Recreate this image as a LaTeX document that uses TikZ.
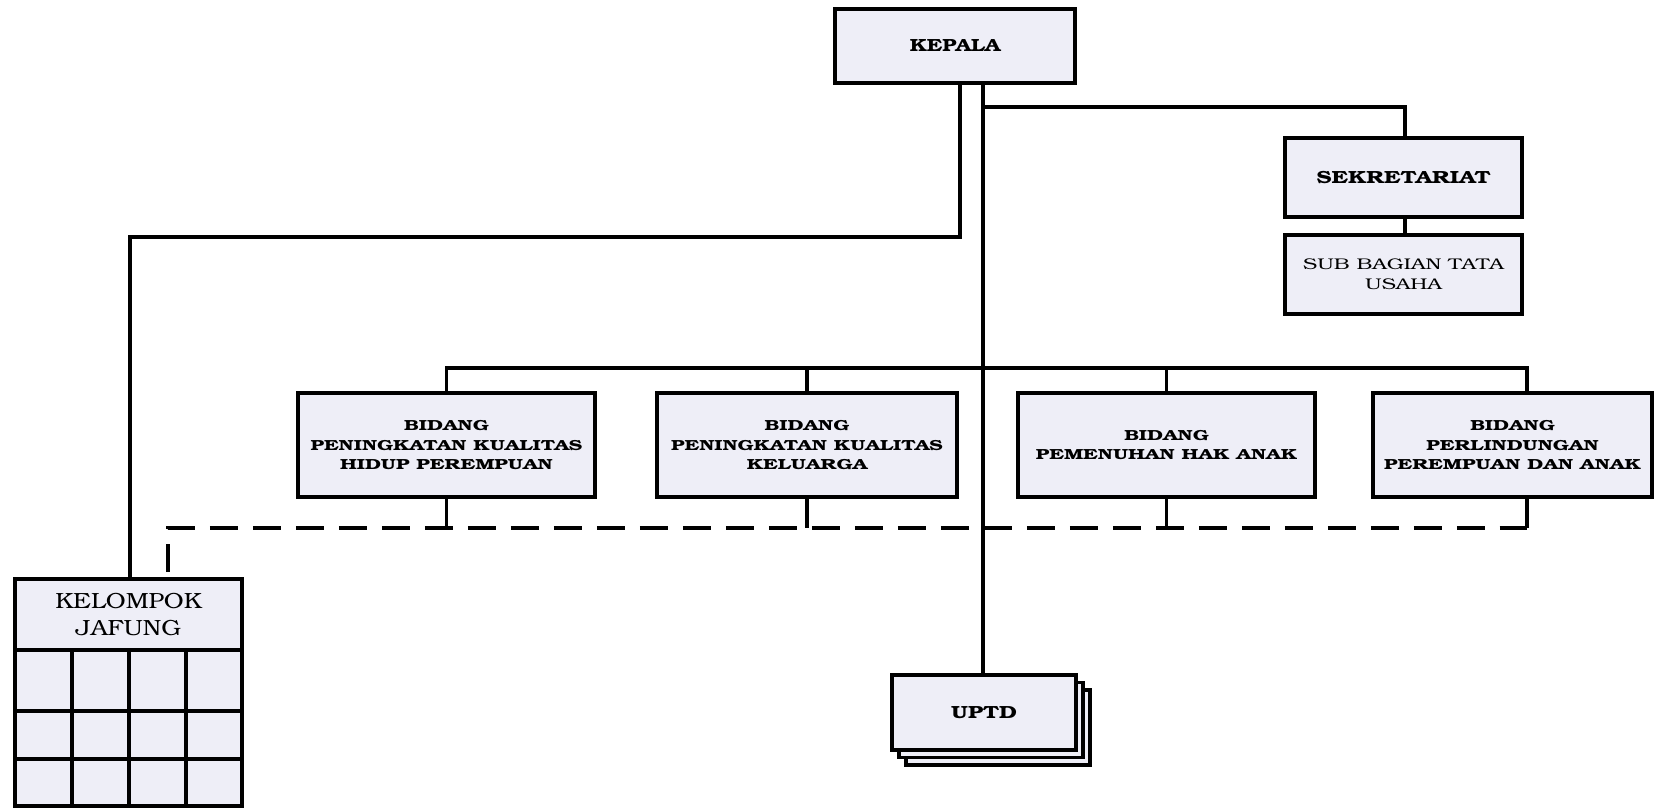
\documentclass[tikz,border=0pt]{standalone}
\usepackage[T1]{fontenc}
\usepackage{graphicx}
\renewcommand{\rmdefault}{pbk}
\usetikzlibrary{calc}
\definecolor{boxfill}{HTML}{EEEEF7}
\newcommand{\wb}[1]{\scalebox{1.4}[1]{#1}}
\newcommand{\wsub}[1]{\scalebox{1.38}[1]{#1}}
\newcommand{\wkel}[1]{\scalebox{1.13}[1]{#1}}
\tikzset{
  orgbox/.style={draw=black, line width=2.2pt, fill=boxfill, align=center, inner sep=2pt},
  conn/.style={draw=black, line width=1.8pt},
  dconn/.style={draw=black, line width=1.8pt, dash pattern=on 0.56cm off 0.3cm},
  bidtext/.style={font=\fontsize{8.3}{11}\selectfont\bfseries},
}
\begin{document}
\begin{tikzpicture}[x=0.02cm,y=-0.02cm]
\useasboundingbox (0,0) rectangle (1657,808);
% KEPALA
\node[orgbox, minimum width=4.8cm, minimum height=1.48cm, font=\fontsize{10}{12}\selectfont\bfseries] (kepala) at (955,46) {\scalebox{1.22}[1]{KEPALA}};
% Sekretariat
\node[orgbox, minimum width=4.74cm, minimum height=1.58cm, font=\fontsize{10}{12}\selectfont\bfseries] (sek) at (1403.5,177.5) {\scalebox{1.3}[1]{SEKRETARIAT}};
\node[orgbox, minimum width=4.74cm, minimum height=1.58cm, font=\fontsize{8.8}{11.3}\selectfont] (sub) at (1403.5,274.5) {\wsub{SUB BAGIAN TATA}\\\wsub{USAHA}};
% Bidang
\node[orgbox, minimum width=5.94cm, minimum height=2.08cm, bidtext] (b1) at (446.5,445) {\wb{BIDANG}\\\wb{PENINGKATAN KUALITAS}\\\wb{HIDUP PEREMPUAN}};
\node[orgbox, minimum width=6.0cm, minimum height=2.08cm, bidtext] (b2) at (807,445) {\wb{BIDANG}\\\wb{PENINGKATAN KUALITAS}\\\wb{KELUARGA}};
\node[orgbox, minimum width=5.94cm, minimum height=2.08cm, bidtext] (b3) at (1166.5,445) {\wb{BIDANG}\\\wb{PEMENUHAN HAK ANAK}};
\node[orgbox, minimum width=5.58cm, minimum height=2.08cm, bidtext] (b4) at (1512.5,445) {\wb{BIDANG}\\\wb{PERLINDUNGAN}\\\wb{PEREMPUAN DAN ANAK}};
% UPTD stack
\node[orgbox, minimum width=3.68cm, minimum height=1.5cm] (uptdc) at (998,727.5) {};
\node[orgbox, minimum width=3.68cm, minimum height=1.5cm] (uptdb) at (991,720) {};
\node[orgbox, minimum width=3.68cm, minimum height=1.5cm, font=\fontsize{10}{12}\selectfont\bfseries] (uptd) at (984,712.5) {\scalebox{1.3}[1]{UPTD}};
% Kelompok jafung
\node[orgbox, minimum width=4.54cm, minimum height=1.42cm, font=\fontsize{12.5}{15}\selectfont] (kel) at (128.5,614.5) {\wkel{KELOMPOK}\\\wkel{JAFUNG}};
\foreach \xa/\xb in {15/72,72/129,129/186,186/242}{
  \foreach \ya/\yb in {650/711,711/759,759/806}{
    \draw[orgbox] (\xa,\ya) rectangle (\xb,\yb);
  }
}
% coordinates
\coordinate (kl) at (960,83);
\coordinate (kr) at (983,83);
\coordinate (x4) at (1527,497);
% connectors
\draw[conn] (kl) -- (960,237) -- (130,237) -- (kel.north -| 130,0);
\draw[conn] (kr) -- (uptd.north -| kr);
\draw[conn] (983,107) -| (sek.north -| 1405,0);
\draw[conn] (sek.south -| 1405,0) -- (sub.north -| 1405,0);
\draw[conn] (b1.north) |- (x4 |- 0,368) -- (x4 |- b4.north);
\draw[conn] (b2.north) -- (b2.north |- 0,368);
\draw[conn] (b3.north) -- (b3.north |- 0,368);
% bottom stubs
\draw[conn] (b1.south) -- (b1.south |- 0,528);
\draw[conn] (b2.south) -- (b2.south |- 0,528);
\draw[conn] (b3.south) -- (b3.south |- 0,528);
\draw[conn] (x4 |- b4.south) -- (x4 |- 0,528);
\draw[dconn] (168,572) -- (168,528) -- (x4 |- 0,528);
\end{tikzpicture}
\end{document}
